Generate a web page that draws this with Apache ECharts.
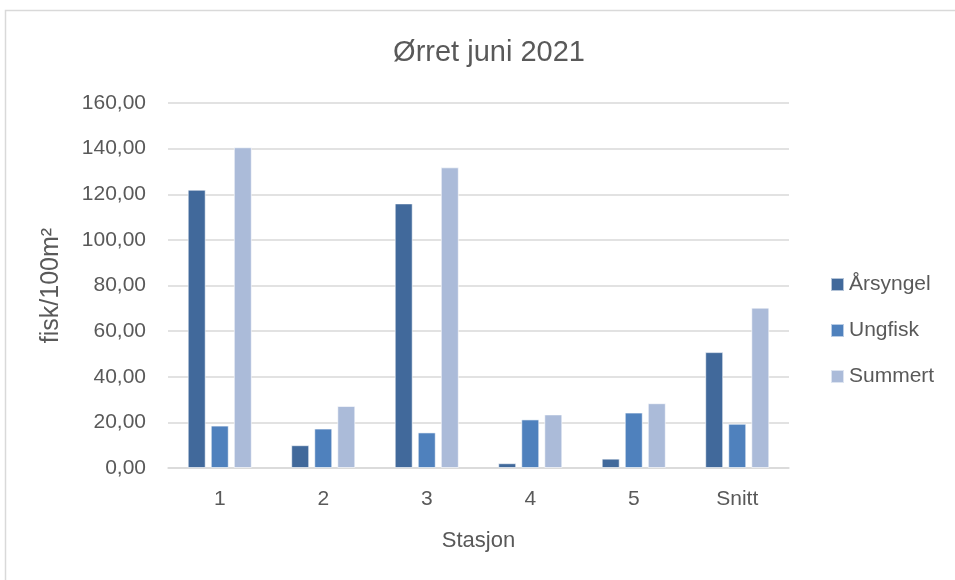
<!DOCTYPE html>
<html>
<head>
<meta charset="utf-8">
<script src="https://cdn.jsdelivr.net/npm/echarts@6/dist/echarts.min.js"></script>
<style>
html,body{margin:0;padding:0;background:#fff;}
#chart{width:955px;height:580px;}
</style>
</head>
<body>
<div id="chart"></div>
<script>
var categories = ['1', '2', '3', '4', '5', 'Snitt'];
var arsyngel = [122.0, 10.0, 116.0, 2.1, 4.1, 50.8];
var ungfisk = [18.6, 17.3, 15.6, 21.3, 24.3, 19.4];
var summert = [140.6, 27.2, 131.8, 23.5, 28.4, 70.3];
var seriesNames = ['Årsyngel', 'Ungfisk', 'Summert'];
var seriesColors = ['#41699b', '#4f81bd', '#abbbd9'];

var FONT = '"Liberation Sans", Arial, sans-serif';
var TXT = '#595959';

var chart = echarts.init(document.getElementById('chart'), null, {renderer: 'canvas'});
var dataSets = [arsyngel, ungfisk, summert];
var series = dataSets.map(function (d, i) {
  return {
    name: seriesNames[i],
    type: 'bar',
    data: d,
    barWidth: 18,
    barGap: '28%',
    itemStyle: {color: seriesColors[i], borderColor: 'rgba(255,255,255,0.6)', borderWidth: 1},
    emphasis: {disabled: true}
  };
});

chart.setOption({
  animation: false,
  backgroundColor: '#fff',
  textStyle: {fontFamily: FONT, color: TXT},
  title: {
    text: 'Ørret juni 2021',
    left: 484,
    textAlign: 'center',
    top: 33,
    textStyle: {fontFamily: FONT, fontSize: 29, fontWeight: 'normal', color: TXT}
  },
  graphic: [{
    type: 'rect',
    shape: {x: 5.5, y: 10.5, width: 1000, height: 1000},
    style: {fill: 'none', stroke: '#d9d9d9', lineWidth: 1.5},
    silent: true
  }],
  legend: {
    orient: 'vertical',
    left: 830,
    top: 274,
    padding: 0,
    itemWidth: 13,
    itemHeight: 13,
    itemGap: 25,
    icon: 'rect',
    data: seriesNames,
    textStyle: {fontFamily: FONT, fontSize: 21, color: TXT, lineHeight: 21}
  },
  grid: {left: 168, right: 166, top: 103, bottom: 112, containLabel: false},
  xAxis: {
    type: 'category',
    data: categories,
    name: 'Stasjon',
    nameLocation: 'middle',
    nameGap: 62,
    nameTextStyle: {fontFamily: FONT, fontSize: 22, color: TXT},
    axisLine: {lineStyle: {color: '#d9d9d9', width: 1.5}},
    axisTick: {show: false},
    axisLabel: {fontFamily: FONT, fontSize: 21, color: TXT, margin: 21}
  },
  yAxis: {
    type: 'value',
    min: 0,
    max: 160,
    interval: 20,
    name: 'fisk/100m²',
    nameLocation: 'middle',
    nameGap: 104,
    nameRotate: 90,
    nameTextStyle: {fontFamily: FONT, fontSize: 25, color: TXT},
    axisLine: {show: false},
    axisTick: {show: false},
    axisLabel: {
      fontFamily: FONT, fontSize: 21, color: TXT, margin: 22,
      formatter: function (v) { return v.toFixed(2).replace('.', ','); }
    },
    splitLine: {lineStyle: {color: '#d9d9d9', width: 1.5}}
  },
  series: series
});
</script>
</body>
</html>
